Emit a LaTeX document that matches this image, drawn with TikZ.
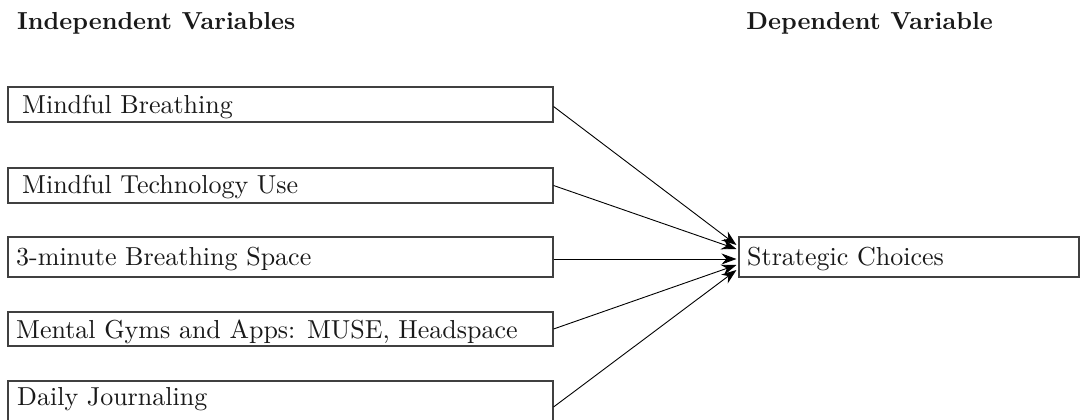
\documentclass[tikz,border=0pt]{standalone}
\usepackage{fontspec}
\setmainfont{lmroman10-regular.otf}[BoldFont=lmroman10-bold.otf]
\usetikzlibrary{arrows.meta,calc}
\begin{document}
\begin{tikzpicture}[x=1pt,y=-1pt,
  box/.style={draw=black!75, line width=1.1pt, inner sep=0pt},
  lbl/.style={anchor=base west, inner sep=0pt, font=\fontsize{26}{30}\selectfont, text=black!90},
  hdr/.style={anchor=base west, inner sep=0pt, font=\bfseries\fontsize{24.6}{30}\selectfont, text=black!90},
  arr/.style={line width=0.9pt, -{Stealth[length=15pt,width=11pt]}}]
\clip (0,0) rectangle (1081,420);
\fill[white] (0,0) rectangle (1081,420);
\node[hdr] (h1) at (17,30) {Independent Variables};
\node[hdr, anchor=base east] (h2) at (993,30) {Dependent Variable};
\node[box, minimum width=545pt, minimum height=35pt] (b1) at (280.5,104.5) {};
\node[box, minimum width=545pt, minimum height=35pt] (b2) at (280.5,185.5) {};
\node[box, minimum width=545pt, minimum height=40pt] (b3) at (280.5,257) {};
\node[box, minimum width=545pt, minimum height=34pt] (b4) at (280.5,329) {};
\node[box, minimum width=545pt, minimum height=52pt] (b5) at (280.5,407) {};
\node[box, minimum width=340pt, minimum height=40pt] (sc) at (909,257) {};
\node[lbl] (t1) at (22,113) {Mindful Breathing};
\node[lbl] (t2) at (22,193) {Mindful Technology Use};
\node[lbl] (t3) at (16,265) {3-minute Breathing Space};
\node[lbl] (t4) at (16,338) {Mental Gyms and Apps: MUSE, Headspace};
\node[lbl] (t5) at (17,405) {Daily Journaling};
\node[lbl] (ts) at (747,265) {Strategic Choices};
\draw[arr] ($(b1.east)+(0,2)$) -- ($(sc.west)+(-2,-12)$);
\draw[arr] (b2.east) -- ($(sc.west)+(-2,-8)$);
\draw[arr] ($(b3.east)+(0,2)$) -- ($(sc.west)+(-2,2)$);
\draw[arr] (b4.east) -- ($(sc.west)+(-2,8)$);
\draw[arr] (b5.east) -- ($(sc.west)+(-2,13)$);
\end{tikzpicture}
\end{document}
